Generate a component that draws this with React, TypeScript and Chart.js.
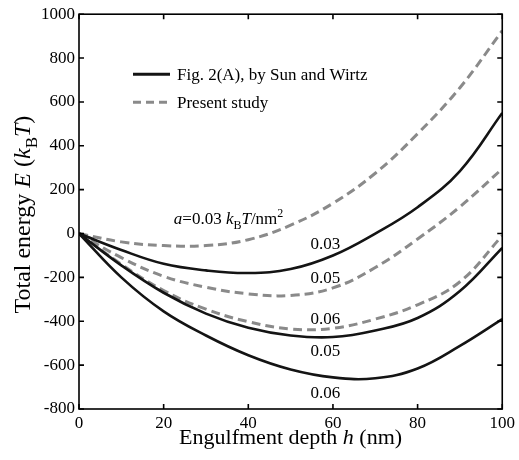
import React, { useEffect, useRef } from "react";
import { Chart, registerables } from "chart.js";

Chart.register(...registerables);

// ---- data ----
const depthNm = [0, 10, 20, 30, 40, 50, 60, 70, 80, 90, 100];
const sunWirtzA003 = [0, -75, -138, -168, -180, -162, -100, 0, 120, 285, 550];
const sunWirtzA005 = [0, -145, -270, -365, -430, -465, -472, -442, -385, -262, -65];
const sunWirtzA006 = [0, -200, -355, -465, -555, -620, -656, -660, -615, -512, -390];
const presentA003 = [0, -38, -55, -55, -28, 38, 138, 275, 455, 665, 925];
const presentA005 = [0, -110, -195, -245, -275, -282, -248, -155, -25, 122, 295];
const presentA006 = [0, -140, -260, -345, -402, -435, -432, -390, -325, -220, -10];

const xTicks = [0, 20, 40, 60, 80, 100];
const yTicks = [-800, -600, -400, -200, 0, 200, 400, 600, 800, 1000];

const legendLabels = ["Fig. 2(A), by Sun and Wirtz", "Present study"];

// curve labels: text, depth h (left edge), energy (vertical centre)
const curveLabelText = ["0.03", "0.05", "0.06", "0.05", "0.06"];
const curveLabelH = [54.7, 54.7, 54.7, 54.7, 54.7];
const curveLabelE = [-46, -199, -385, -531, -723];

const SERIF = '"Liberation Serif", "Times New Roman", serif';
const SOLID = "#141414";
const DASHED = "#8a8a8a";

type Part = { t: string; it?: boolean; sub?: boolean; sup?: boolean };

function drawRich(ctx: CanvasRenderingContext2D, parts: Part[], x: number, y: number, size: number, align: "left" | "center") {
  const fontFor = (p: Part) => {
    const s = p.sub || p.sup ? Math.round(size * 0.7) : size;
    return `${p.it ? "italic " : ""}${s}px ${SERIF}`;
  };
  let total = 0;
  const widths: number[] = [];
  for (const p of parts) {
    ctx.font = fontFor(p);
    const w = ctx.measureText(p.t).width;
    widths.push(w);
    total += w;
  }
  let cx = align === "center" ? x - total / 2 : x;
  ctx.textBaseline = "alphabetic";
  ctx.textAlign = "left";
  const base = y + size * 0.33;
  parts.forEach((p, i) => {
    ctx.font = fontFor(p);
    let dy = 0;
    if (p.sub) dy = size * 0.28;
    if (p.sup) dy = -size * 0.42;
    ctx.fillText(p.t, cx, base + dy);
    cx += widths[i];
  });
}

const decorPlugin = {
  id: "decor",
  afterDraw(chart: any) {
    const { ctx, chartArea } = chart;
    const { left, right, top, bottom } = chartArea;
    const xs = chart.scales.x;
    const ys = chart.scales.y;
    ctx.save();
    ctx.fillStyle = "#000";
    ctx.strokeStyle = "#000";
    // frame
    ctx.lineWidth = 1.6;
    ctx.setLineDash([]);
    ctx.strokeRect(left, top, right - left, bottom - top);
    // inward ticks
    const tl = 5;
    ctx.beginPath();
    for (const v of xTicks) {
      const px = xs.getPixelForValue(v);
      ctx.moveTo(px, bottom);
      ctx.lineTo(px, bottom - tl);
      ctx.moveTo(px, top);
      ctx.lineTo(px, top + tl);
    }
    for (const v of yTicks) {
      const py = ys.getPixelForValue(v);
      ctx.moveTo(left, py);
      ctx.lineTo(left + tl, py);
      ctx.moveTo(right, py);
      ctx.lineTo(right - tl, py);
    }
    ctx.stroke();

    // legend
    const lx0 = left + 54;
    const lx1 = left + 91;
    const ly = [top + 60, top + 88];
    ctx.lineWidth = 3;
    ctx.strokeStyle = SOLID;
    ctx.beginPath();
    ctx.moveTo(lx0, ly[0]);
    ctx.lineTo(lx1, ly[0]);
    ctx.stroke();
    ctx.strokeStyle = DASHED;
    ctx.setLineDash([8, 5]);
    ctx.beginPath();
    ctx.moveTo(lx0, ly[1]);
    ctx.lineTo(lx1, ly[1]);
    ctx.stroke();
    ctx.setLineDash([]);
    ctx.fillStyle = "#000";
    legendLabels.forEach((t, i) => drawRich(ctx, [{ t }], lx1 + 7, ly[i], 17, "left"));

    // curve labels
    curveLabelText.forEach((t, i) => {
      drawRich(ctx, [{ t }], xs.getPixelForValue(curveLabelH[i]), ys.getPixelForValue(curveLabelE[i]), 17, "left");
    });
    drawRich(
      ctx,
      [
        { t: "a", it: true },
        { t: "=0.03 " },
        { t: "k", it: true },
        { t: "B", sub: true },
        { t: "T", it: true },
        { t: "/nm" },
        { t: "2", sup: true },
      ],
      xs.getPixelForValue(22.4),
      ys.getPixelForValue(70),
      17,
      "left"
    );

    // axis titles
    drawRich(
      ctx,
      [{ t: "Engulfment depth " }, { t: "h", it: true }, { t: " (nm)" }],
      (left + right) / 2,
      437,
      22,
      "center"
    );
    ctx.translate(22, (top + bottom) / 2 + 3);
    ctx.rotate(-Math.PI / 2);
    drawRich(
      ctx,
      [
        { t: "Total energy " },
        { t: "E", it: true },
        { t: " (" },
        { t: "k", it: true },
        { t: "B", sub: true },
        { t: "T", it: true },
        { t: ")" },
      ],
      0,
      0,
      24,
      "center"
    );
    ctx.restore();
  },
};

function series(values: number[]) {
  return depthNm.map((h, i) => ({ x: h, y: values[i] }));
}

export default function App() {
  const ref = useRef<HTMLCanvasElement | null>(null);
  useEffect(() => {
    document.body.style.margin = "0";
    const canvas = ref.current;
    if (!canvas) return;
    const solid = (d: number[]) => ({
      data: series(d),
      borderColor: SOLID,
      borderWidth: 2.6,
      pointRadius: 0,
      fill: false,
      tension: 0.4,
    });
    const dashed = (d: number[]) => ({
      data: series(d),
      borderColor: DASHED,
      borderWidth: 3,
      borderDash: [9, 5],
      pointRadius: 0,
      fill: false,
      tension: 0.4,
    });
    const chart = new Chart(canvas, {
      type: "line",
      data: {
        datasets: [
          solid(sunWirtzA003),
          solid(sunWirtzA005),
          solid(sunWirtzA006),
          dashed(presentA003),
          dashed(presentA005),
          dashed(presentA006),
        ],
      },
      options: {
        animation: false,
        responsive: false,
        events: [],
        layout: { padding: { top: 14, right: 12, left: 0, bottom: 0 } },
        plugins: { legend: { display: false }, tooltip: { enabled: false } },
        scales: {
          x: {
            type: "linear",
            min: 0,
            max: 100,
            afterBuildTicks: (s: any) => {
              s.ticks = xTicks.map((v) => ({ value: v }));
            },
            afterFit: (s: any) => {
              s.height = 51;
            },
            grid: { display: false, drawTicks: false },
            border: { display: false },
            ticks: {
              color: "#000",
              font: { family: SERIF, size: 17 },
              padding: 4,
              maxRotation: 0,
              callback: (v: any) => String(v),
            },
          },
          y: {
            type: "linear",
            min: -800,
            max: 1000,
            afterBuildTicks: (s: any) => {
              s.ticks = yTicks.map((v) => ({ value: v }));
            },
            afterFit: (s: any) => {
              s.width = 79;
            },
            grid: { display: false, drawTicks: false },
            border: { display: false },
            ticks: {
              color: "#000",
              font: { family: SERIF, size: 17 },
              padding: 4,
              callback: (v: any) => String(v),
            },
          },
        },
      },
      plugins: [decorPlugin],
    });
    return () => chart.destroy();
  }, []);
  return <canvas ref={ref} width={519} height={460} style={{ display: "block" }} />;
}
